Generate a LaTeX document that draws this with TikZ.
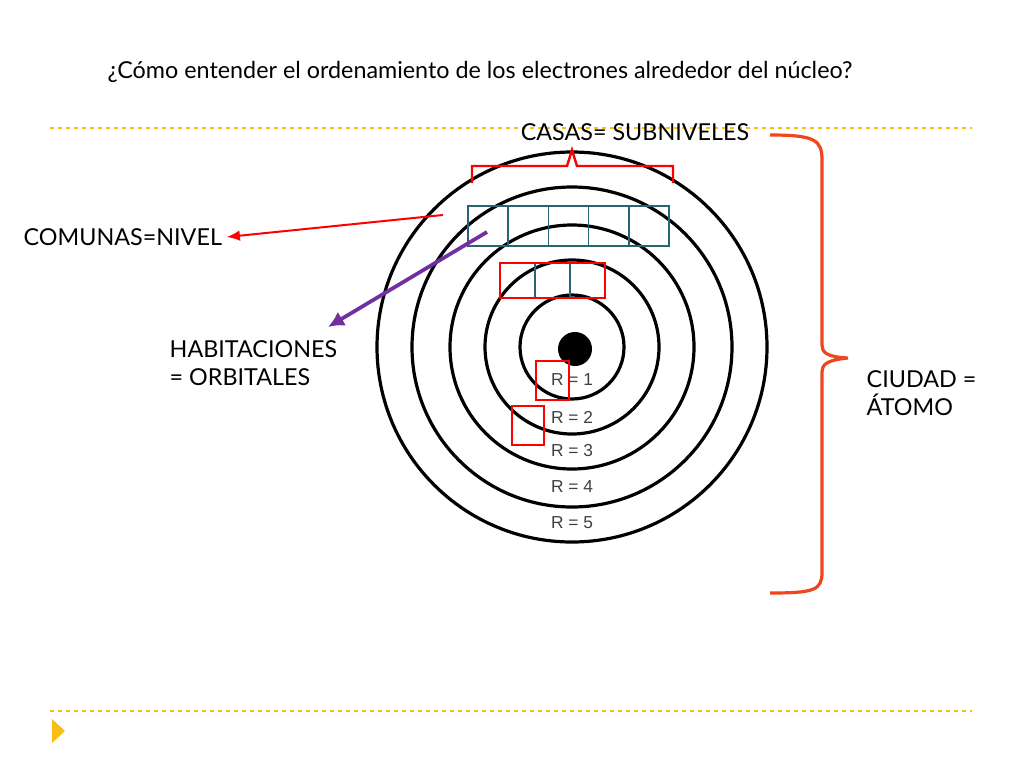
\documentclass[tikz,border=0pt]{standalone}
\usepackage{fontspec}
\setmainfont{Lato}
\newfontfamily\arialfont{Liberation Sans}
\usetikzlibrary{arrows.meta}
\definecolor{slideyellow}{RGB}{248,190,20}
\definecolor{bracered}{RGB}{240,70,30}
\definecolor{cellteal}{RGB}{40,100,115}
\definecolor{arrowpurple}{RGB}{112,48,160}
\tikzset{
  ring/.style={draw=black,line width=2.4pt},
  cell/.style={draw=cellteal,line width=1.1pt},
  orbbox/.style={draw=red,line width=1.1pt},
  rlabel/.style={font=\arialfont\fontsize{13}{14}\selectfont,text=black!75},
  bigtext/.style={font=\fontsize{17.5}{21}\selectfont,align=left}
}
\begin{document}
\begin{tikzpicture}[x=0.75pt,y=-0.75pt]
    \useasboundingbox (0,0) rectangle (1024,768);
    %title
    \node[bigtext,anchor=west] (title) at (103,72) {¿Cómo entender el ordenamiento de los electrones alrededor del núcleo?};
    %dashed lines
    \draw [slideyellow,dashed,line width=0.8pt] (50,128) -- (972,128);
    \draw [slideyellow,dashed,line width=0.8pt] (50,711) -- (972,711);
    \fill [slideyellow] (52,719) -- (65,731) -- (52,743) -- cycle;
    %rings
    \foreach \r in {195,160,122,87,52}
      \draw [ring] (572,347) circle (\r);
    \fill [black] (575,349) circle (17);
    %R labels
    \foreach \i/\yy in {1/380,2/417,3/451,4/487,5/523}
      \node[rlabel] (r\i) at (572,\yy) {R = \i};
    %cells
    \foreach \i in {0,...,4}
      \draw [cell] (468+40.2*\i,206) rectangle ++(40.2,40);
    \foreach \i in {0,...,2}
      \draw [cell] (500+35*\i,263) rectangle ++(35,35);
    \draw [orbbox] (500,263) rectangle (605,298);
    \draw [orbbox] (536,361) rectangle (569,400);
    \draw [orbbox] (512,406) rectangle (544,445);
    %top brace
    \draw [red,line width=1.8pt] (472,183) -- (472,166) -- (567,166) -- (572,150) -- (577,166) -- (673,166) -- (673,183);
    \node[bigtext] (casas) at (635,132) {CASAS= SUBNIVELES};
    %right brace
    \draw [bracered,line width=2.4pt] (770,135) .. controls (815,135) and (822,140) .. (822,160) -- (822,345) .. controls (822,352) and (826,357) .. (848,358) .. controls (826,360) and (822,365) .. (822,372) -- (822,572) .. controls (822,590) and (815,593) .. (770,593);
    \node[bigtext,anchor=north west] (ciudad) at (862,366) {CIUDAD =\\ÁTOMO};
    %labels and arrows
    \node[bigtext,anchor=west] (comunas) at (19,237) {COMUNAS=NIVEL};
    \node[bigtext,anchor=north west] (habit) at (165,336) {HABITACIONES\\= ORBITALES};
    \coordinate (redstart) at (443,215);
    \coordinate (purplestart) at (487,232);
    \draw [red,line width=1.5pt,-{Latex[length=10pt,width=8pt]}] (redstart) -- (comunas.east);
    \draw [arrowpurple,line width=2.8pt,-{Latex[length=12pt,width=12pt]}] (purplestart) -- (328,327);
\end{tikzpicture}
\end{document}
